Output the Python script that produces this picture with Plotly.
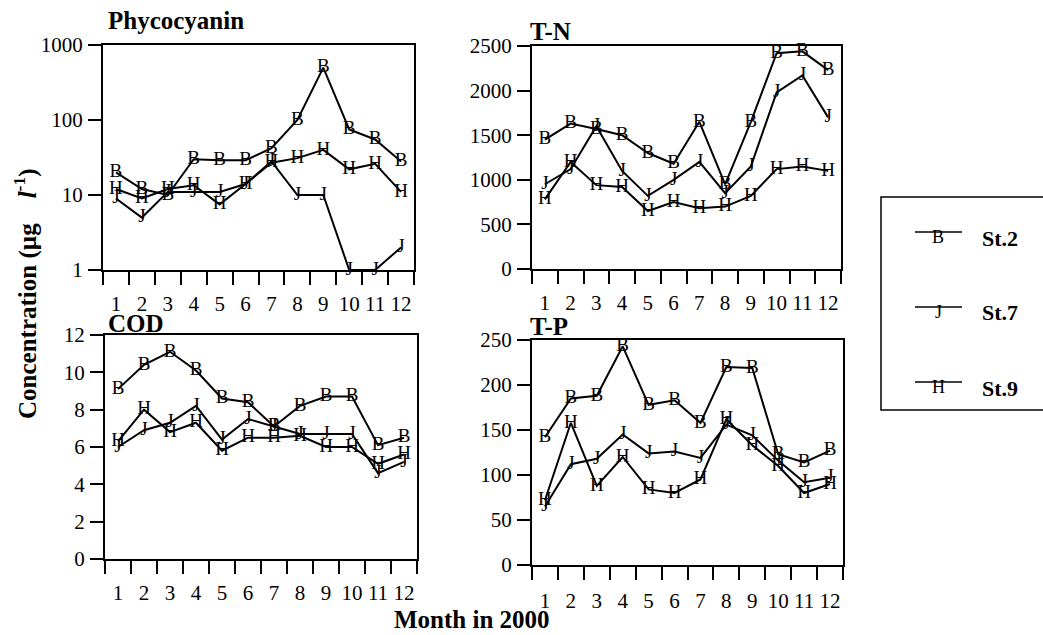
import plotly.graph_objects as go

months = list(range(1, 13))
month_labels = [str(m) for m in months]

stations = ["St.2", "St.7", "St.9"]
station_letters = ["B", "J", "H"]

# Phycocyanin (log scale)
phyco_st2 = [20, 12, 10, 30, 29, 29, 42, 100, 500, 75, 55, 28]
phyco_st7 = [9, 5, 11, 11, 11, 14, 28, 10, 10, 1, 1, 2]
phyco_st9 = [12, 9, 12, 13.5, 7.5, 14, 27, 31, 40, 22, 26, 11]

# T-N
tn_st2 = [1450, 1630, 1570, 1500, 1300, 1180, 1650, 950, 1650, 2420, 2440, 2230]
tn_st7 = [950, 1120, 1600, 1100, 820, 1000, 1200, 850, 1150, 1980, 2170, 1700]
tn_st9 = [780, 1200, 940, 920, 650, 750, 680, 700, 820, 1120, 1150, 1100]

# COD
cod_st2 = [9.1, 10.4, 11.1, 10.1, 8.6, 8.4, 7.1, 8.2, 8.7, 8.7, 6.1, 6.5]
cod_st7 = [6.0, 6.9, 7.3, 8.2, 6.4, 7.5, 7.1, 6.7, 6.7, 6.7, 4.6, 5.2]
cod_st9 = [6.3, 8.0, 6.8, 7.3, 5.8, 6.5, 6.5, 6.6, 6.0, 6.0, 5.1, 5.6]

# T-P
tp_st2 = [142, 185, 188, 243, 178, 183, 158, 220, 219, 123, 114, 127]
tp_st7 = [65, 112, 118, 145, 124, 126, 119, 156, 144, 116, 92, 97]
tp_st9 = [72, 158, 88, 120, 84, 80, 95, 162, 133, 110, 80, 90]

panel_titles = ["Phycocyanin", "T-N", "COD", "T-P"]
phyco_ticks = [1, 10, 100, 1000]
tn_ticks = [0, 500, 1000, 1500, 2000, 2500]
cod_ticks = [0, 2, 4, 6, 8, 10, 12]
tp_ticks = [0, 50, 100, 150, 200, 250]

W, H = 1043, 635
FONT = "Liberation Serif, Times New Roman, Times, serif"

def px_x(v):
    return v / W

def px_y(v):
    return 1 - v / H

# pixel boxes (left, right, top, bottom)
boxes = [(103, 414, 45, 270), (532, 841, 46, 269), (105, 417, 335, 559), (532, 843, 340, 565)]

panels = [
    (phyco_st2, phyco_st7, phyco_st9),
    (tn_st2, tn_st7, tn_st9),
    (cod_st2, cod_st7, cod_st9),
    (tp_st2, tp_st7, tp_st9),
]

fig = go.Figure()

for i, series in enumerate(panels):
    xa = "x" if i == 0 else f"x{i+1}"
    ya = "y" if i == 0 else f"y{i+1}"
    for name, letter, vals in zip(stations, station_letters, series):
        fig.add_trace(go.Scatter(
            x=months, y=vals, name=name, mode="lines+text",
            text=[letter] * len(vals), textposition="middle center",
            textfont=dict(family=FONT, size=19, color="black"),
            line=dict(color="black", width=2),
            xaxis=xa, yaxis=ya, cliponaxis=False, showlegend=False,
        ))

axis_common = dict(
    showline=True, linecolor="black", linewidth=2, mirror=True,
    showgrid=False, zeroline=False,
    tickfont=dict(family=FONT, size=21, color="black"),
)

yticks = [phyco_ticks, tn_ticks, cod_ticks, tp_ticks]
yranges = [[0, 3], [0, 2500], [0, 12], [0, 250]]

layout = dict(
    width=W, height=H, autosize=False,
    margin=dict(l=0, r=0, t=0, b=0, pad=0, autoexpand=False),
    paper_bgcolor="white", plot_bgcolor="white",
    showlegend=False,
    font=dict(family=FONT, color="black"),
)

for i, (l, r, t, b) in enumerate(boxes):
    xk = "xaxis" if i == 0 else f"xaxis{i+1}"
    yk = "yaxis" if i == 0 else f"yaxis{i+1}"
    ya = "y" if i == 0 else f"y{i+1}"
    xa = "x" if i == 0 else f"x{i+1}"
    layout[xk] = dict(
        axis_common, domain=[px_x(l), px_x(r)], anchor=ya,
        range=[0.5, 12.5], tickmode="array", tickvals=months, ticktext=month_labels,
        ticks="", ticklabelstandoff=14 if i < 3 else 16,
        minor=dict(ticks="outside", ticklen=13, tickwidth=1.5, tickcolor="black",
                   tick0=0.5, dtick=1, showgrid=False),
    )
    ydict = dict(
        axis_common, domain=[px_y(b), px_y(t)], anchor=xa,
        tickmode="array", tickvals=yticks[i], ticktext=[str(v) for v in yticks[i]],
        ticks="outside", ticklen=13, tickwidth=1.5, tickcolor="black",
        ticklabelstandoff=1,
    )
    if i == 0:
        ydict["type"] = "log"
    ydict["range"] = yranges[i]
    layout[yk] = ydict

fig.update_layout(**layout)

# panel titles
title_pos = [(106, 21), (528, 31.5), (106, 323.5), (528, 327)]
for (tx, ty), title in zip(title_pos, panel_titles):
    fig.add_annotation(text=f"<b>{title}</b>", xref="paper", yref="paper",
                       x=px_x(tx), y=px_y(ty), xanchor="left", yanchor="middle",
                       showarrow=False, font=dict(family=FONT, size=25, color="black"))

# axis titles
fig.add_annotation(text="<b>Concentration (µg&nbsp;&nbsp;&nbsp;&nbsp;<i>l</i><sup>-1</sup>)</b>",
                   xref="paper", yref="paper",
                   x=px_x(25), y=px_y(294), textangle=-90, xanchor="center", yanchor="middle",
                   showarrow=False, font=dict(family=FONT, size=25, color="black"))
fig.add_annotation(text="<b>Month in 2000</b>", xref="paper", yref="paper",
                   x=px_x(472), y=px_y(619), xanchor="center", yanchor="middle",
                   showarrow=False, font=dict(family=FONT, size=25, color="black"))

# legend box
fig.add_shape(type="rect", xref="paper", yref="paper",
              x0=px_x(881), x1=px_x(1050), y0=px_y(410), y1=px_y(197),
              line=dict(color="black", width=1.5), fillcolor="rgba(0,0,0,0)")
leg_line_y = [232, 307, 382]
for ly, name, letter in zip(leg_line_y, stations, station_letters):
    fig.add_shape(type="line", xref="paper", yref="paper",
                  x0=px_x(915), x1=px_x(962), y0=px_y(ly), y1=px_y(ly),
                  line=dict(color="black", width=1.5))
    fig.add_annotation(text=letter, xref="paper", yref="paper",
                       x=px_x(938), y=px_y(ly + 5), xanchor="center", yanchor="middle",
                       showarrow=False, font=dict(family=FONT, size=18, color="black"))
    fig.add_annotation(text=f"<b>{name}</b>", xref="paper", yref="paper",
                       x=px_x(980), y=px_y(ly + 6), xanchor="left", yanchor="middle",
                       showarrow=False, font=dict(family=FONT, size=22, color="black"))

fig.write_html("out.html", config={"displayModeBar": False},
               post_script="document.body.style.margin='0';")
